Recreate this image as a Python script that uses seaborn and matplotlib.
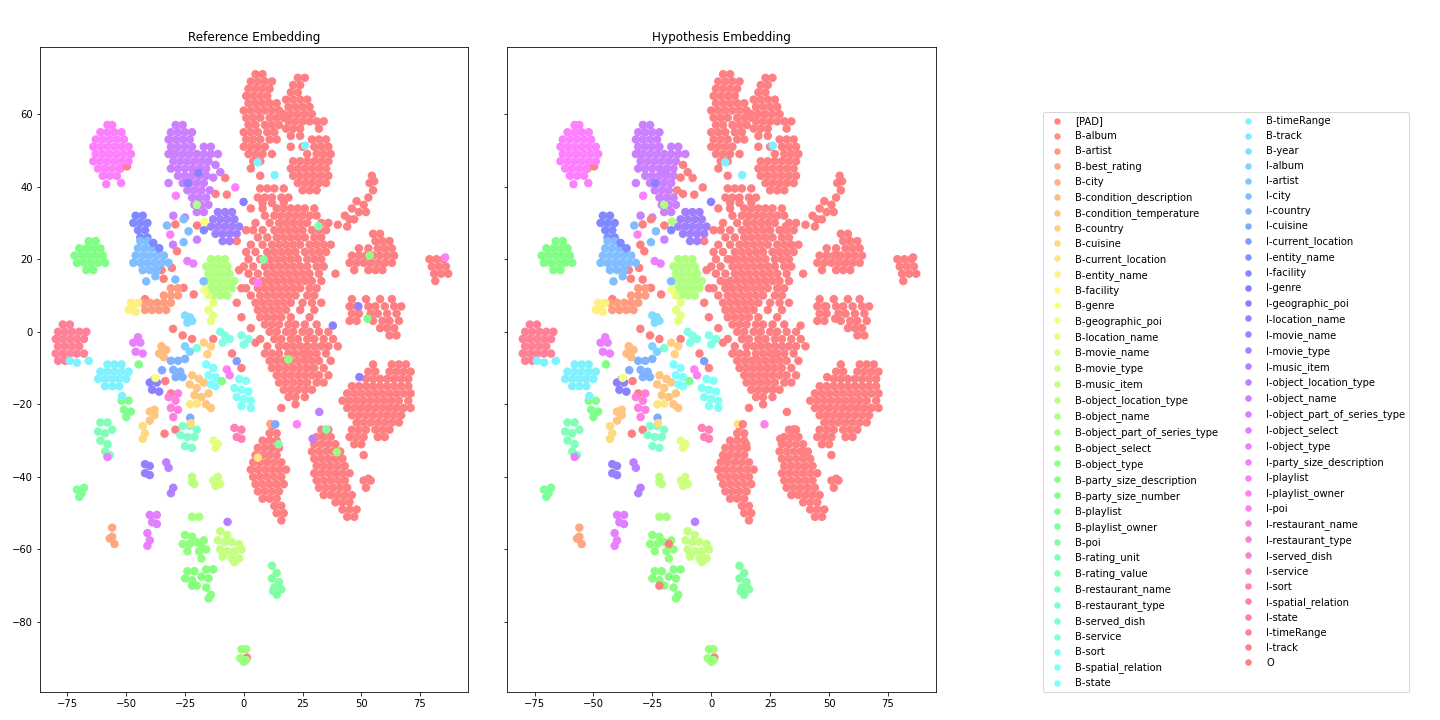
import matplotlib
matplotlib.use("Agg")
import matplotlib.pyplot as plt
from matplotlib.lines import Line2D
import pandas as pd
import seaborn as sns

labels = [
    "[PAD]", "B-album", "B-artist", "B-best_rating", "B-city", "B-condition_description",
    "B-condition_temperature", "B-country", "B-cuisine", "B-current_location", "B-entity_name",
    "B-facility", "B-genre", "B-geographic_poi", "B-location_name", "B-movie_name",
    "B-movie_type", "B-music_item", "B-object_location_type", "B-object_name",
    "B-object_part_of_series_type", "B-object_select", "B-object_type",
    "B-party_size_description", "B-party_size_number", "B-playlist", "B-playlist_owner",
    "B-poi", "B-rating_unit", "B-rating_value", "B-restaurant_name", "B-restaurant_type",
    "B-served_dish", "B-service", "B-sort", "B-spatial_relation", "B-state",
    "B-timeRange", "B-track", "B-year", "I-album", "I-artist", "I-city", "I-country",
    "I-cuisine", "I-current_location", "I-entity_name", "I-facility", "I-genre",
    "I-geographic_poi", "I-location_name", "I-movie_name", "I-movie_type", "I-music_item",
    "I-object_location_type", "I-object_name", "I-object_part_of_series_type",
    "I-object_select", "I-object_type", "I-party_size_description", "I-playlist",
    "I-playlist_owner", "I-poi", "I-restaurant_name", "I-restaurant_type", "I-served_dish",
    "I-service", "I-sort", "I-spatial_relation", "I-state", "I-timeRange", "I-track", "O",
]

# ---- "O" tokens, read row by row (y, [x ...]) ----
O_top_rows = [
    (71, [5, 8]), (69, [3, 6, 9, 12]), (67, [2, 5, 8, 11]), (65, [1, 4, 7, 10]),
    (63, [2, 5, 8, 11, 14]), (61, [0, 3, 6, 9, 12, 15]), (59, [1, 4, 7, 11, 14, 17]),
    (57, [2, 5, 9, 12, 15]), (55, [0, 3, 6, 10, 13]), (53, [1, 4, 7, 11, 14]),
    (51, [0, 3, 6, 9]), (49, [2, 5, 8, 12]), (47, [4, 7]),
    (70, [23, 26]), (68, [21, 24]), (66, [20, 23]), (64, [18, 21, 24, 27]),
    (62, [19, 22, 25, 28]), (60, [17, 20, 23, 26, 29]), (58, [19, 22, 25, 28, 31, 34]),
    (56, [18, 21, 24, 32]), (54, [20, 24]),
    (53, [29, 32, 35]), (51, [20, 25, 30, 33, 36]), (49, [27, 31, 34, 37]),
    (47, [21, 24, 27, 30, 33, 36]), (45, [3, 20, 23, 26, 29, 32, 35]),
    (43, [7, 21, 24, 27, 30, 33, 36]), (41, [23, 26, 29, 32, 35]), (39, [25, 28, 31]),
    (39.5, [7, 10, 13, 17]), (37, [6, 9, 12, 16, 19]), (35.5, [8, 12, 17]),
]
O_centre_rows = [
    (34, [3, 8, 14, 17, 20, 23, 26, 30]), (32, [9, 13, 16, 19, 22, 25, 28, 31]),
    (30, [5, 11, 15, 18, 21, 24, 27, 33, 36]), (28, [4, 8, 13, 16, 19, 22, 25, 29, 32, 35]),
    (26, [6, 10, 14, 17, 20, 23, 26, 30, 33]), (24, [3, 8, 12, 15, 18, 21, 24, 28, 31, 34, 37]),
    (22, [1, 5, 10, 13, 16, 19, 22, 26, 29, 32, 35]), (20, [2, 7, 11, 14, 17, 20, 23, 27, 30, 33]),
    (18, [0, 4, 9, 12, 15, 18, 21, 24, 27, 31, 34]), (16, [2, 6, 10, 13, 16, 19, 22, 25, 28, 32, 39]),
    (14, [4, 8, 11, 14, 17, 20, 23, 26, 29, 33]), (12, [1, 6, 9, 12, 15, 18, 21, 24, 28, 31]),
    (10, [3, 7, 10, 13, 16, 19, 22, 27, 30]), (8, [5, 8, 11, 14, 17, 20, 25, 29, 33]),
    (6, [6, 9, 12, 15, 18, 24, 30]), (4, [7, 10, 13, 16, 20, 28]),
    (2, [9, 12, 15, 19, 22, 26, 31]), (0, [11, 14, 18, 21, 25, 28, 32, 36]),
    (-2, [7, 13, 16, 20, 23, 27, 30, 34, 38]), (-4, [10, 15, 18, 21, 24, 27, 30, 33, 36, 40]),
    (-6, [9, 12, 15, 19, 22, 25, 28, 31, 35]), (-8, [11, 14, 17, 20, 23, 26, 29, 32, 37]),
    (-10, [12, 15, 18, 21, 24, 27, 30, 34]), (-12, [14, 17, 20, 23, 26, 29, 32, 36]),
    (-14, [15, 18, 21, 24, 27, 31, 34]), (-16, [17, 20, 23, 26, 29]), (-18, [19, 22, 26]),
]
O_right_rows = [
    (9, [46, 52, 58, 63]), (7, [45, 48, 53, 56, 60, 64, 67]), (5, [46, 49, 54, 57, 61, 65]),
    (3, [45, 48, 55, 59, 62, 66]), (1, [58, 61, 64]), (-1, [62, 65]),
    (27, [55, 58]), (25, [56, 59, 62]), (23, [49, 53, 57, 60, 63]),
    (21, [46, 49, 52, 55, 58, 61, 64]), (19, [45, 48, 51, 54, 57, 60, 63]), (17, [47, 53, 56, 59]),
    (20, [79, 82, 85]), (18, [80, 83, 86]), (16, [81, 84, 87]), (14, [81.5]),
    (-9, [55, 63, 66, 69]), (-11, [53, 56, 62, 65, 68, 71]), (-13, [52, 55, 58, 61, 64, 67, 70]),
    (-15, [46, 49, 52, 55, 58, 61, 64, 67, 70]), (-17, [44, 47, 50, 53, 56, 59, 62, 65, 68, 71]),
    (-19, [42, 45, 48, 51, 54, 57, 60, 63, 66, 70]), (-21, [44, 47, 50, 53, 56, 59, 62, 65, 68, 71]),
    (-23, [46, 49, 52, 55, 58, 61, 64, 67]), (-25, [48, 51, 54, 57, 60, 63, 66]),
    (-27, [46, 49, 52, 56, 59, 62]), (-29, [45, 48, 51, 57, 60]), (-31, [47, 50]), (-34, [51]),
]
O_low_rows = [
    (-26, [12]), (-28, [11, 14]), (-30, [8, 11, 14]), (-32, [6, 9, 12, 15]),
    (-34, [5, 8, 11, 14]), (-36, [4, 7, 10, 13, 16]), (-38, [3, 6, 9, 12, 15, 18]),
    (-40, [4, 7, 10, 13, 16]), (-42, [5, 8, 11, 14, 17]), (-44, [6, 9, 12, 15]),
    (-46, [8, 11, 14]), (-48, [13, 16]), (-50, [14, 17]), (-52, [16]),
    (-27, [33, 36]), (-29, [31, 34, 37]), (-31, [30, 33, 36, 39]), (-33, [29, 32, 35, 38, 41]),
    (-35, [30, 33, 36, 39, 42]), (-37, [31, 34, 37, 40, 43]), (-39, [30, 33, 36, 39, 42, 45]),
    (-41, [31, 34, 37, 40, 43]), (-43, [32, 35, 38, 41, 44]), (-45, [34, 37, 40, 43, 46]),
    (-47, [39, 42, 45]), (-49, [42, 45, 48]), (-51, [44, 47]),
    (-41, [51, 54]), (-43, [52]), (-40.5, [53]),
]
O_arm = [(54.5, 43), (55.5, 41.5), (53.5, 41), (55, 39), (53, 37), (51, 35), (52, 33),
         (48, 36), (46, 34), (49, 33), (43, 32), (45, 31), (40, 29.5), (44, 29), (47, 31)]
O_extra = [(-31, 49), (-52.5, 45), (-49.7, 45.6), (-7.9, 42.4), (-7.2, 37.8), (-12, 38),
           (-29.1, 29.6), (-19.9, 29.3), (-28.4, 22.2), (-30.6, 17.6), (-34.1, 14.6),
           (-25.6, 12.1), (-21.3, 10.3), (-30.1, 0.8), (-26, -1), (-22, -2), (-13, -2),
           (-33.4, -13.6), (-31, -17), (-33.7, -28.1), (-29.1, -27), (-3, 8), (-1, 12),
           (-2, 17), (-3, 25), (1, 28), (-1, 4), (3, 1), (5, -3), (-5, -6), (-42, 9),
           (-35, 17), (-1, -10), (16, -21), (22, -20), (27, -6), (1.3, -89.8)]

# ---- tagged clusters (x, y) ----
pts_I_playlist = [(-58, 57), (-56, 57), (-61, 55), (-58, 55), (-55, 55), (-52, 55),
                  (-63, 53), (-60, 53), (-57, 53), (-54, 53), (-51, 53), (-64, 51), (-61, 51),
                  (-58, 51), (-55, 51), (-52, 51), (-49, 51), (-63, 49), (-60, 49), (-57, 49),
                  (-54, 49), (-51, 49), (-48, 49), (-64, 47), (-61, 47), (-58, 47), (-55, 47),
                  (-52, 47), (-49, 47), (-62, 45), (-59, 45), (-56, 45), (-53, 45), (-60, 43),
                  (-57, 43), (-54, 43), (-58.5, 40.7), (-52.2, 41)]
pts_I_object_name = [(-29, 57), (-26, 57), (-31, 55), (-28, 55), (-25, 55), (-22, 55),
                     (-32, 53), (-29, 53), (-26, 53), (-23, 53), (-31, 51), (-28, 51), (-25, 51),
                     (-22, 51), (-17, 51), (-14, 51), (-32, 49), (-29, 49), (-26, 49), (-23, 49),
                     (-20, 49), (-17, 49), (-14, 49), (-11, 49), (-30, 47), (-27, 47), (-24, 47),
                     (-21, 47), (-18, 47), (-15, 47), (-31, 45), (-28, 45), (-25, 45), (-22, 45),
                     (-19, 45), (-16, 45), (-28, 43), (-25, 43), (-22, 43), (-19, 43), (-16, 43),
                     (-32, 41), (-26, 41), (-23, 41), (-20, 41), (-17, 41), (-24, 39), (-21, 39),
                     (-18, 39), (-22, 37), (-19, 37), (-16, 37), (-21, 35), (-18, 35), (-15, 35),
                     (-20, 33), (-17, 33), (-25, 31.5), (-30, 32)]
pts_I_movie_name = [(-11, 33), (-8, 33), (-5, 33), (-13, 31), (-10, 31), (-7, 31), (-4, 31),
                    (-14, 29), (-11, 29), (-8, 29), (-5, 29), (-2, 29), (-12, 27), (-9, 27),
                    (-6, 27), (-3, 27), (-9, 25), (-6, 25)]
pts_I_facility = [(-46, 32), (-43, 32), (-47, 30), (-44, 30), (-41, 30), (-45, 28), (-42, 28),
                  (-44, 26), (-41, 26)]
pts_I_city = [(-44, 25), (-41, 25), (-45, 23), (-42, 23), (-39, 23), (-36, 23), (-46, 21),
              (-43, 21), (-40, 21), (-37, 21), (-34, 21), (-47, 19), (-44, 19), (-41, 19),
              (-38, 19), (-35, 19), (-32, 19), (-43, 17), (-40, 17), (-37, 17)]
pts_B_party_size_number = [(-66, 25), (-63, 25), (-70, 23), (-67, 23), (-64, 23), (-61, 23),
                           (-72, 21), (-69, 21), (-66, 21), (-63, 21), (-60, 21), (-71, 19),
                           (-68, 19), (-65, 19), (-62, 19), (-59, 19), (-67, 17), (-64, 17)]
pts_B_artist = [(-31, 12), (-28, 12), (-34, 10), (-31, 10), (-28, 10), (-43, 8), (-40, 8),
                (-37, 8), (-34, 8), (-31, 8), (-42, 6), (-39, 6), (-36, 6), (-33, 6)]
pts_B_entity_name = [(-48, 8), (-45, 8), (-47, 7), (-49, 6), (-46, 5.5)]
pts_B_object_name = [(-14, 20), (-11, 20), (-8, 20), (-16, 18), (-13, 18), (-10, 18), (-7, 18),
                     (-15, 16), (-12, 16), (-9, 16), (-6, 16), (-16, 14), (-13, 14), (-10, 14),
                     (-7, 14), (-4, 14), (-14, 12), (-11, 12), (-8, 12), (-5, 12), (-13, 10),
                     (-10, 10), (-7, 10)]
pts_B_location_name = [(-15, 10), (-13, 8), (-15, 6), (-13, 4.5), (-14, 3),
                       (-13, -30), (-11, -31), (-12, -32)]
pts_B_year = [(-25, 4.5), (-23, 4), (-24, 2.5), (-22, 3)]
pts_I_timeRange = [(-77, 2), (-74, 2), (-79, 0), (-76, 0), (-73, 0), (-70, 0), (-67, 0),
                   (-80, -2), (-77, -2), (-74, -2), (-71, -2), (-68, -2), (-79, -4), (-76, -4),
                   (-73, -4), (-70, -4), (-80, -6), (-77, -6), (-74, -6), (-71, -6), (-68, -6),
                   (-79, -8), (-76, -8)]
pts_B_service = [(-10, 0), (-8, -1), (-9, -3), (-6, -2), (-1, -1), (2, -2), (0, -3.5)]
pts_B_timeRange = [(-58, -9), (-55, -9), (-52, -9), (-61, -11), (-58, -11), (-55, -11),
                   (-52, -11), (-49, -11), (-62, -13), (-59, -13), (-56, -13), (-53, -13),
                   (-50, -13), (-59, -15), (-56, -15), (-53, -15)]
pts_I_object_type = [(-47, -3), (-44, -3), (-46, -5.5), (-43, -6), (-45, -1.5),
                     (-41, -55.5), (-40, -57.5), (-41, -59)]
pts_B_condition_description = [(-35, -4), (-33, -5), (-34, -7), (-36, -6)]
pts_I_geographic_poi = [(-40, -14), (-37, -14), (-39, -16), (-36, -16.5), (-38, -13)]
pts_B_playlist = [(-52, -19), (-49, -19), (-51, -21.5), (-48, -22), (-50, -23.5)]
pts_B_rating_value = [(-61, -25), (-58, -25), (-62, -27.5), (-59, -28), (-56, -27), (-61, -30),
                      (-58, -31), (-59, -33), (-57, -34)]
pts_B_condition_temperature = [(-40, -22), (-38, -23), (-40, -24.5), (-38, -21.5),
                               (-22, -12), (-19, -13), (-23, -14.5), (-20, -15.5), (-17, -14),
                               (-21, -17.5), (-18, -18), (-15, -17), (-16, -20), (-14, -21)]
pts_B_cuisine = [(-43, -26), (-42, -28), (-43, -29.5)]
pts_I_restaurant_name = [(-32, -18), (-29, -19), (-31, -21), (-28, -21.5), (-30, -23.5), (-28, -17)]
pts_B_restaurant_type = [(-26, -26), (-23, -26), (-20, -27), (-27, -28.5), (-24, -29), (-21, -29),
                         (-25, -31.5), (-22, -32)]
pts_I_sort = [(-4, -26.5), (-1, -27), (-3, -29), (-1, -29.5)]
pts_B_spatial_relation = [(-2, -13), (1, -13.5), (-4, -15.5), (-1, -16), (2, -16.5), (-3, -18),
                          (0, -18.5), (3, -19), (-1, -20.5), (3, -21)]
pts_I_country = [(-31, -8), (-28, -8), (-25, -7.5), (-30, -10.5), (-27, -11), (-29, -12.5),
                 (-26, -12.5)]
pts_B_state = [(-16, -9), (-13, -10), (-15, -12), (-12, -12.5), (-14, -14.5), (-12, -15)]
pts_I_location_name = [(-42, -36.5), (-40, -37), (-42, -39), (-40, -39.5)]
pts_I_object_location_type = [(-33, -36), (-32, -37.5)]
pts_I_music_item = [(-30, -43), (-31, -44.5), (-6.9, -52.4)]
pts_B_playlist_owner = [(-71, -43.5), (-68, -43), (-70, -45.5), (-69, -44.5)]
pts_B_object_location_type = [(-22, -40), (-21, -42), (-22, -41.5)]
pts_B_movie_type = [(-13, -41), (-11, -40), (-12, -42.5), (-10, -42)]
pts_I_object_select = [(-40, -50.5), (-37, -50.5), (-39, -52.5), (-37, -53)]
pts_B_best_rating = [(-56, -54), (-56, -56.5), (-55, -58.5), (-57, -57)]
pts_B_object_part_of_series_type = [(-22, -51), (-19, -51)]
pts_B_object_type = [(-25, -56), (-22, -56.5), (-26, -58.5), (-23, -58.5), (-20, -58),
                     (-17, -57.5), (-24, -60.5), (-19, -60.5), (-16, -60), (-18, -62.5)]
pts_B_party_size_description = [(-24, -66), (-21, -66), (-16, -65.5), (-13, -65.5), (-25, -68),
                                (-22, -68.5), (-18, -67.5), (-15, -68), (-20, -70), (-16, -70.5),
                                (-14, -72.5), (-15, -73.5)]
pts_B_music_item = [(-10, -55), (-7, -56), (-11, -57.5), (-8, -58), (-5, -58), (-2, -58.5),
                    (-10, -60), (-7, -60.5), (-4, -60.5), (-1, -60), (-9, -62), (-5, -62.5),
                    (-2, -62.5), (-4, -63.5)]
pts_B_poi = [(12, -64.5), (14, -66.5), (12, -68), (15, -69), (13, -70.5), (16, -71),
             (14, -72.5), (12.5, -71.5)]
pts_B_object_select = [(-1, -87.5), (1, -87.5), (-1.5, -90), (1, -90.5), (0, -91)]

# ---- single scattered points: x, y, reference tag, hypothesis tag ----
misc_x = [-32.7, -25.6, -23.5, -25.6, -31.3, -30.1, -19.9, -24.0, -21.5, -37.6, -41.5, -29.1,
          -17.1, -16.7, -36.0, -38.5, -20.0, -3.6, -0.1, -19.2, -23.8, -28.9, -16.7, -17.0,
          -12.0, -10.0, -13.0, -14.5, -37.6, -34.8, -22.8, -20.0, -22.8, -22.5, -7.2, -6.0,
          -9.3, -3.0, -20.0, -17.0, -14.0, -15.5, -25.0, -23.0, -44.7, -74.0, -71.0, -66.0,
          -58.0, 5.9, 13.1, 26.1, 31.7, 8.4, 53.6, 85.7, 5.9, 48.8, 52.6, 37.9, 49.2, 32.1,
          29.3, 35.1, 39.6, 11.3, 13.4, 22.6, 6.0, 14.8, 19.0, -18.0, -22.0, -51.8]
misc_y = [29.3, 31.0, 27.7, 24.7, 26.8, 24.0, 25.4, 19.5, 18.8, 15.3, 13.9, 14.4, 13.9, 11.5,
          23.0, 24.5, 35.0, 39.8, 35.8, 43.8, 41.0, 37.5, 30.4, 28.0, 46.0, 44.0, 42.5, 39.0,
          -12.7, -10.6, -20.0, -19.8, -23.7, -25.2, -10.4, -12.0, -13.6, -8.1, -4.5, -3.0, -4.0,
          -6.2, -4.0, -5.5, -9.0, -8.0, -8.5, -8.0, -34.5, 46.7, 43.2, 51.3, 29.1, 19.9, 21.0,
          20.5, 13.5, 7.0, 3.6, 1.7, -12.5, -22.1, -29.5, -26.9, -33.2, -25.4, -25.5, -25.5,
          -34.7, -31.0, -7.6, -58.5, -70.0, -17.7]
misc_ref = ["I-city", "I-city", "I-city", "I-city", "I-playlist_owner", "I-object_name",
            "I-object_name", "I-object_type", "I-object_type", "I-city", "I-city", "I-city",
            "I-city", "B-geographic_poi", "I-facility", "I-facility", "B-object_name", "I-playlist",
            "I-geographic_poi", "I-geographic_poi", "I-geographic_poi", "I-playlist", "B-genre",
            "I-facility", "I-object_name", "I-object_name", "I-object_name", "I-object_name",
            "B-genre", "I-cuisine", "B-current_location", "B-current_location", "I-cuisine",
            "B-cuisine", "I-playlist_owner", "I-playlist_owner", "B-playlist", "I-current_location",
            "B-served_dish", "B-country", "B-country", "B-country", "I-album", "I-album",
            "B-party_size_number", "B-timeRange", "B-timeRange", "B-timeRange", "I-object_type",
            "B-timeRange", "B-timeRange", "B-timeRange", "B-rating_unit", "B-poi", "B-object_type",
            "I-playlist", "I-playlist", "I-location_name", "B-playlist", "I-geographic_poi",
            "I-geographic_poi", "I-object_location_type", "I-object_location_type", "B-poi",
            "B-object_select", "B-best_rating", "I-cuisine", "I-playlist_owner",
            "B-current_location", "B-poi", "B-object_type", "B-object_type",
            "B-party_size_description", "B-timeRange"]
misc_hyp = ["I-city", "O", "I-city", "I-city", "I-playlist_owner", "O", "I-object_name",
            "I-object_type", "I-object_type", "I-city", "I-city", "O", "I-city",
            "B-geographic_poi", "I-facility", "I-facility", "B-object_name", "O",
            "I-geographic_poi", "I-object_name", "I-geographic_poi", "I-playlist", "B-object_name",
            "I-facility", "O", "O", "O", "O", "B-genre", "I-cuisine", "B-current_location",
            "B-current_location", "I-cuisine", "B-cuisine", "I-playlist_owner", "I-playlist_owner",
            "B-playlist", "I-current_location", "B-served_dish", "B-country", "B-country",
            "B-country", "I-album", "I-album", "B-party_size_number", "B-timeRange",
            "B-timeRange", "B-timeRange", "I-object_type", "B-timeRange", "B-timeRange",
            "B-timeRange", "O", "O", "O", "O", "O", "O", "O", "O", "O", "O", "O", "O", "O",
            "B-current_location", "O", "I-playlist_owner", "O", "O", "O", "O", "O",
            "B-timeRange"]


def expand(rows):
    return [(x, y) for y, xs in rows for x in xs]


tag_sets = [
    ("O", expand(O_top_rows) + expand(O_centre_rows) + expand(O_right_rows)
     + expand(O_low_rows) + O_arm + O_extra),
    ("I-playlist", pts_I_playlist), ("I-object_name", pts_I_object_name),
    ("I-movie_name", pts_I_movie_name), ("I-facility", pts_I_facility), ("I-city", pts_I_city),
    ("B-party_size_number", pts_B_party_size_number), ("B-artist", pts_B_artist),
    ("B-entity_name", pts_B_entity_name), ("B-object_name", pts_B_object_name),
    ("B-location_name", pts_B_location_name), ("B-year", pts_B_year),
    ("I-timeRange", pts_I_timeRange), ("B-service", pts_B_service),
    ("B-timeRange", pts_B_timeRange), ("I-object_type", pts_I_object_type),
    ("B-condition_description", pts_B_condition_description),
    ("I-geographic_poi", pts_I_geographic_poi), ("B-playlist", pts_B_playlist),
    ("B-rating_value", pts_B_rating_value), ("B-condition_temperature", pts_B_condition_temperature),
    ("B-cuisine", pts_B_cuisine), ("I-restaurant_name", pts_I_restaurant_name),
    ("B-restaurant_type", pts_B_restaurant_type), ("I-sort", pts_I_sort),
    ("B-spatial_relation", pts_B_spatial_relation), ("I-country", pts_I_country),
    ("B-state", pts_B_state), ("I-location_name", pts_I_location_name),
    ("I-object_location_type", pts_I_object_location_type), ("I-music_item", pts_I_music_item),
    ("B-playlist_owner", pts_B_playlist_owner),
    ("B-object_location_type", pts_B_object_location_type), ("B-movie_type", pts_B_movie_type),
    ("I-object_select", pts_I_object_select), ("B-best_rating", pts_B_best_rating),
    ("B-object_part_of_series_type", pts_B_object_part_of_series_type),
    ("B-object_type", pts_B_object_type), ("B-party_size_description", pts_B_party_size_description),
    ("B-music_item", pts_B_music_item), ("B-poi", pts_B_poi), ("B-object_select", pts_B_object_select),
]

records = []
for tag, pts in tag_sets:
    for x, y in pts:
        records.append((x, y, tag, tag))
for x, y, r, h in zip(misc_x, misc_y, misc_ref, misc_hyp):
    records.append((x, y, r, h))
df = pd.DataFrame(records, columns=["x", "y", "ref", "hyp"])

palette = sns.hls_palette(len(labels), h=0.01, l=0.75, s=1.0)
colour_map = dict(zip(labels, palette))

fig = plt.figure(figsize=(20, 10), dpi=72)
ax1 = fig.add_axes([40 / 1440, 28 / 720, 428 / 1440, 645 / 720])
ax2 = fig.add_axes([507 / 1440, 28 / 720, 429 / 1440, 645 / 720])

for ax, col, title in [(ax1, "ref", "Reference Embedding"), (ax2, "hyp", "Hypothesis Embedding")]:
    sns.scatterplot(data=df, x="x", y="y", hue=col, hue_order=labels, palette=colour_map,
                    s=72, linewidth=0, legend=False, ax=ax)
    ax.set_title(title)
    ax.set_xlabel("")
    ax.set_ylabel("")
    ax.set_xlim(-86.7, 95.4)
    ax.set_ylim(-99.3, 78.5)
ax2.tick_params(labelleft=False)

handles = [Line2D([0], [0], marker="o", linestyle="", markersize=6.5,
                  markerfacecolor=colour_map[l], markeredgewidth=0) for l in labels]
fig.legend(handles, labels, ncol=2, loc="lower left",
           bbox_to_anchor=(1038 / 1440, 23 / 720), fontsize=10)

fig.savefig("out.png", dpi=72)
